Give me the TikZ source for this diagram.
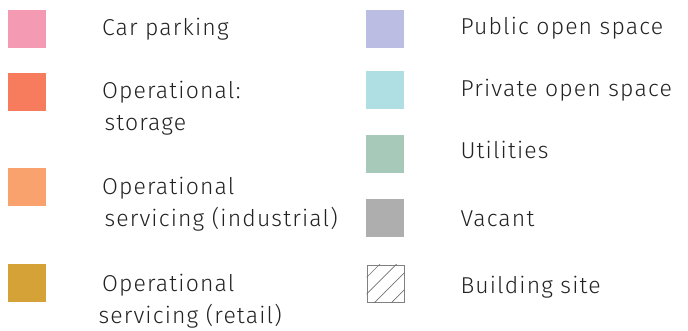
\documentclass[tikz,border=0pt]{standalone}
\usepackage{fontspec}
\setmainfont{Fira Sans Light}[LetterSpace=5]
\definecolor{cpark}{HTML}{F49AB2}
\definecolor{cstor}{HTML}{F77C5D}
\definecolor{cind}{HTML}{FAA26D}
\definecolor{cret}{HTML}{D5A237}
\definecolor{cpub}{HTML}{BCBDE3}
\definecolor{cpriv}{HTML}{AFDEE3}
\definecolor{cutil}{HTML}{A7C9BA}
\definecolor{cvac}{HTML}{AEAEAE}
\definecolor{ctext}{HTML}{222222}
\tikzset{
  swatch/.style={draw=none, minimum width=38pt, minimum height=38pt, inner sep=0pt, anchor=north west},
  hatchbox/.style={draw=black!50, line width=0.8pt, minimum width=37pt, minimum height=37pt, inner sep=0pt, anchor=north west},
  lbl/.style={anchor=base west, inner sep=0pt, outer sep=0pt, text=ctext, font=\fontsize{23}{30}\selectfont},
}
\begin{document}
\begin{tikzpicture}[x=1pt,y=-1pt]
\useasboundingbox (0,0) rectangle (688,331);
% left column
\node[swatch, fill=cpark] (s1) at (8,10) {};
\node[lbl] (t1) at (102,35.7) {Car parking};
\node[swatch, fill=cstor] (s2) at (8,73) {};
\node[lbl] (t2a) at (102,99) {Operational:};
\node[lbl] (t2b) at (104.5,130.5) {storage};
\node[swatch, fill=cind] (s3) at (8,168) {};
\node[lbl] (t3a) at (102,194.3) {Operational};
\node[lbl] (t3b) at (104.5,226.5) {servicing (industrial)};
\node[swatch, fill=cret] (s4) at (8,264) {};
\node[lbl] (t4a) at (102,291.7) {Operational};
\node[lbl] (t4b) at (98.5,323.5) {servicing (retail)};
% right column
\node[swatch, fill=cpub] (s5) at (366,10) {};
\node[lbl] (t5) at (460.5,35) {Public open space};
\node[swatch, fill=cpriv] (s6) at (366,71) {};
\node[lbl] (t6) at (460.5,96.7) {Private open space};
\node[swatch, fill=cutil] (s7) at (366,135) {};
\node[lbl] (t7) at (460.5,158.3) {Utilities};
\node[swatch, fill=cvac] (s8) at (366,199) {};
\node[lbl] (t8) at (460.5,226.7) {Vacant};
\node[hatchbox] (s9) at (366.5,264.5) {};
\begin{scope}
\clip (s9.north west) rectangle (s9.south east);
\foreach \c in {644,660.5,677,694}{
  \draw[black!55, line width=0.7pt] (\c-302-2,302+2) -- (\c-264+2,264-2);
}
\end{scope}
\node[lbl] (t9) at (460.5,293.3) {Building site};
\end{tikzpicture}
\end{document}
